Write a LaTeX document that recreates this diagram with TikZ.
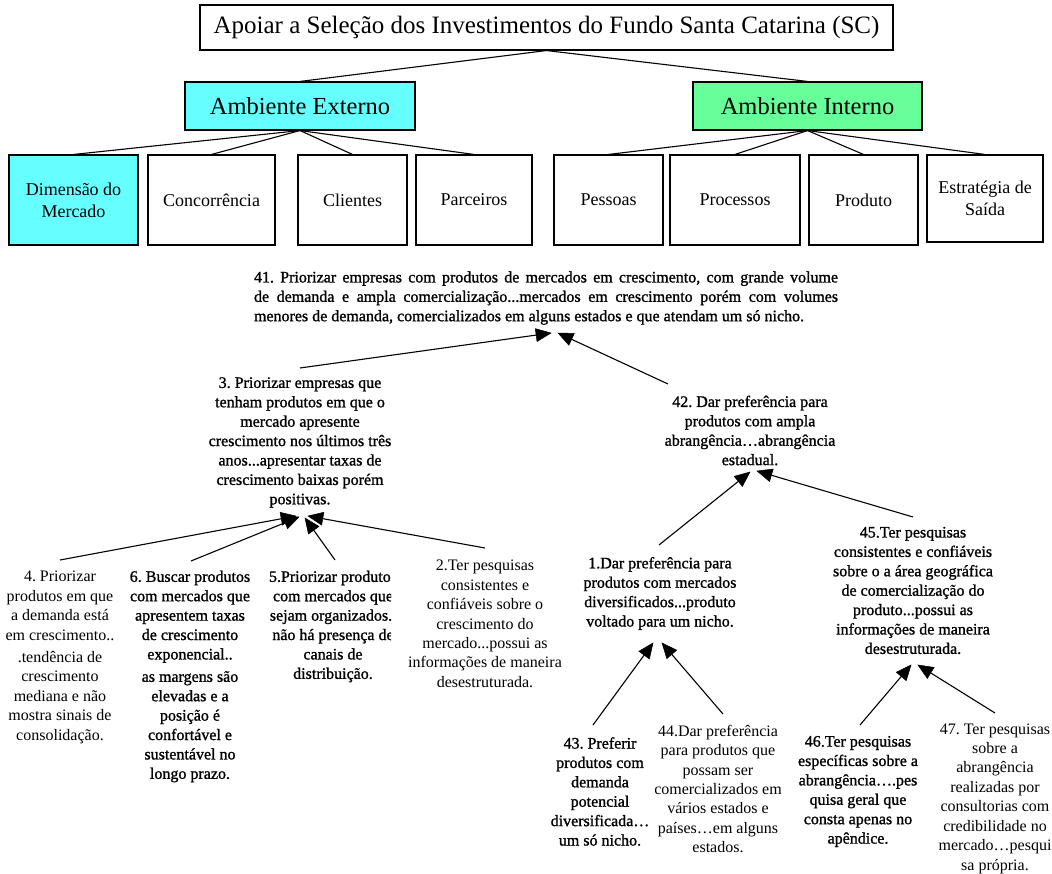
\documentclass[tikz,border=0pt]{standalone}
\usepackage{fontspec}
\setmainfont{Liberation Serif}
\newfontfamily\dk[FakeBold=1.2]{Liberation Serif}
\usetikzlibrary{calc}
\definecolor{cyanbox}{HTML}{66FFFF}
\definecolor{greenbox}{HTML}{66FF99}
\tikzset{
 box/.style={draw, line width=1.1pt, inner sep=0pt, align=center, font=\fontsize{18}{22}\selectfont},
 link/.style={line width=1.1pt},
 arrline/.style={line width=1.1pt, shorten >=8pt},
 arrhead/.style={fill=black, draw=black, line width=0.5pt, line join=miter},
 dtxt/.style={align=center, inner sep=0pt, font=\dk\fontsize{16}{19.4}\selectfont},
 ltxt/.style={align=center, inner sep=0pt, font=\fontsize{16}{19.4}\selectfont},
}
\newcommand\arrowto[2]{%
 \draw[arrline] (#1) -- (#2);
 \path[arrhead] (#2) -- ($(#2)!15pt!(#1)!6.5pt!90:(#1)$) -- ($(#2)!15pt!(#1)!6.5pt!-90:(#1)$) -- cycle;
}
\frenchspacing
\begin{document}
\begin{tikzpicture}[x=1pt,y=-1pt]
\useasboundingbox (0,0) rectangle (1052,874);
% top tree
\node[box, minimum width=693, minimum height=45, font=\fontsize{25}{29}\selectfont] (title) at (546.5,27.5) {Apoiar a Seleção dos Investimentos do Fundo Santa Catarina (SC)};
\node[box, fill=cyanbox, minimum width=230, minimum height=48, font=\fontsize{24.5}{28}\selectfont] (ae) at (300,106) {Ambiente Externo};
\node[box, fill=greenbox, minimum width=229, minimum height=48, font=\fontsize{24.5}{28}\selectfont] (ai) at (807.5,106) {Ambiente Interno};
\node[box, fill=cyanbox, minimum width=129, minimum height=90] (dm) at (73.5,200) {Dimensão do\\Mercado};
\node[box, minimum width=127, minimum height=90] (co) at (211.5,200) {Concorrência};
\node[box, minimum width=109, minimum height=90] (cl) at (352.5,200) {Clientes};
\node[box, minimum width=116, minimum height=90] (pa) at (474,200) {Parceiros};
\node[box, minimum width=109, minimum height=90] (pe) at (608.5,200) {Pessoas};
\node[box, minimum width=130, minimum height=90] (pr) at (735,200) {Processos};
\node[box, minimum width=109, minimum height=90] (pd) at (863.5,200) {Produto};
\node[box, minimum width=116, minimum height=87] (es) at (985,198.5) {Estratégia de\\Saída};
\draw[link] (title.south) -- (ae.north);
\draw[link] (title.south) -- (ai.north);
\foreach \b in {dm,co,cl,pa} \draw[link] (ae.south) -- (\b.north);
\foreach \b in {pe,pr,pd,es} \draw[link] (ai.south) -- (\b.north);
% criteria
\node[dtxt, text width=584, align=justify] (n41) at (546,298) {41. Priorizar empresas com produtos de mercados em crescimento, com grande volume\linebreak de demanda e ampla comercialização...mercados em crescimento porém com volumes\linebreak menores de demanda, comercializados em alguns estados e que atendam um só nicho.};
\node[dtxt] (n3) at (300,442.5) {3. Priorizar empresas que\\tenham produtos em que o\\mercado apresente\\crescimento nos últimos três\\anos...apresentar taxas de\\crescimento baixas porém\\positivas.};
\node[dtxt] (n42) at (750,430.5) {42. Dar preferência para\\produtos com ampla\\abrangência…abrangência\\estadual.};
\node[ltxt] (n4) at (60,657.5) {4. Priorizar\\produtos em que\\a demanda está\\em crescimento..\\[3pt].tendência de\\crescimento\\mediana e não\\mostra sinais de\\consolidação.};
\node[dtxt] (n6) at (190,676.5) {6. Buscar produtos\\com mercados que\\apresentem taxas\\de crescimento\\exponencial..\\[3pt]as margens são\\elevadas e a\\posição é\\confortável e\\sustentável no\\longo prazo.};
\begin{scope}
\clip (260,560) rectangle (391,700);
\node[dtxt] (n5) at (333,626.5) {5.Priorizar produtos\\com mercados que\\sejam organizados..\\não há presença de\\canais de\\distribuição.};
\end{scope}
\node[ltxt] (n2) at (485,624) {2.Ter pesquisas\\consistentes e\\confiáveis sobre o\\crescimento do\\mercado...possui as\\informações de maneira\\desestruturada.};
\node[dtxt] (n1) at (660,593.5) {1.Dar preferência para\\produtos com mercados\\diversificados...produto\\voltado para um nicho.};
\node[dtxt] (n45) at (913,590.5) {45.Ter pesquisas\\consistentes e confiáveis\\sobre o a área geográfica\\de comercialização do\\produto...possui as\\informações de maneira\\desestruturada.};
\node[dtxt] (n43) at (600,791.5) {43. Preferir\\produtos com\\demanda\\potencial\\diversificada…\\um só nicho.};
\node[ltxt] (n44) at (718,789) {44.Dar preferência\\para produtos que\\possam ser\\comercializados em\\vários estados e\\países…em alguns\\estados.};
\node[dtxt] (n46) at (858,791.5) {46.Ter pesquisas\\específicas sobre a\\abrangência….pes\\quisa geral que\\consta apenas no\\apêndice.};
\node[ltxt] (n47) at (995,798.5) {47. Ter pesquisas\\sobre a\\abrangência\\realizadas por\\consultorias com\\credibilidade no\\mercado…pesqui\\sa própria.};
% connector ends
\coordinate (t41a) at (551,333); \coordinate (t41b) at (558,333);
\coordinate (s3) at (300,368); \coordinate (s42) at (668,384);
\coordinate (t3a) at (296,516); \coordinate (t3b) at (299,517);
\coordinate (t3c) at (305,518); \coordinate (t3d) at (308,516);
\coordinate (s4) at (60,560); \coordinate (s6) at (191,561);
\coordinate (s5) at (335,560); \coordinate (s2) at (485,548);
\coordinate (t42a) at (750,472); \coordinate (t42b) at (757,471);
\coordinate (s1) at (659,545); \coordinate (s45) at (913,517);
\coordinate (t1a) at (653,643); \coordinate (t1b) at (662,643);
\coordinate (s43) at (593,725); \coordinate (s44) at (723,714);
\coordinate (t45a) at (911,665); \coordinate (t45b) at (918,665);
\coordinate (s46) at (860,725); \coordinate (s47) at (995,713);
\arrowto{s3}{t41a}
\arrowto{s42}{t41b}
\arrowto{s4}{t3a}
\arrowto{s6}{t3b}
\arrowto{s5}{t3c}
\arrowto{s2}{t3d}
\arrowto{s1}{t42a}
\arrowto{s45}{t42b}
\arrowto{s43}{t1a}
\arrowto{s44}{t1b}
\arrowto{s46}{t45a}
\arrowto{s47}{t45b}
\end{tikzpicture}
\end{document}
